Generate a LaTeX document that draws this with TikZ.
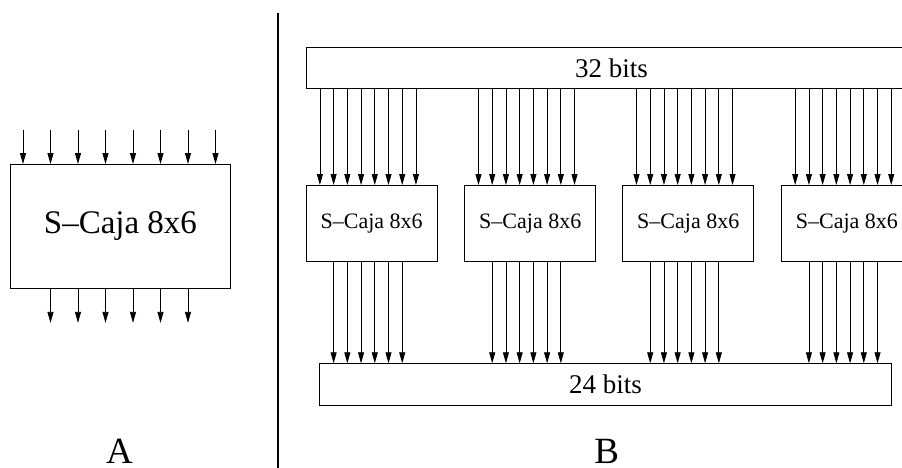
\documentclass[tikz,border=0pt]{standalone}
\usepackage{fontspec}
\setmainfont{Liberation Serif}
\usetikzlibrary{arrows.meta}
\begin{document}
\begin{tikzpicture}[x=1pt,y=-1pt,
  boxst/.style={draw, line width=0.9pt, inner sep=0pt, anchor=north west},
  arr/.style={line width=0.8pt, -{Triangle[length=11pt,width=6pt]}},
  bigtxt/.style={font=\fontsize{33}{40}\selectfont},
  lbltxt/.style={font=\fontsize{37}{44}\selectfont},
  midtxt/.style={font=\fontsize{27}{32}\selectfont},
  smalltxt/.style={font=\fontsize{22}{26}\selectfont}]
\clip (0,0) rectangle (902,467);
% ---------- Part A ----------
\node[boxst, bigtxt, minimum width=220pt, minimum height=124pt] (A) at (10,164) {S--Caja 8x6};
\foreach \i in {0,...,7}{
  \coordinate (ain\i) at ([xshift={13+27.5*\i}]A.north west);
  \coordinate (asrc\i) at ([yshift=34]ain\i);
  \draw[arr] (asrc\i) -- (ain\i);
}
\foreach \i in {1,...,6}{
  \coordinate (aout\i) at ([xshift={13+27.5*\i}]A.south west);
  \coordinate (adst\i) at ([yshift=-34]aout\i);
  \draw[arr] (aout\i) -- (adst\i);
}
\node[lbltxt, anchor=base, inner sep=0pt] (la) at (119.6,463.5) {A};
% ---------- separator ----------
\coordinate (septop) at (278,13);
\coordinate (sepbot) at (278,470);
\draw[line width=1.2pt] (septop) -- (sepbot);
% ---------- Part B ----------
\node[boxst, midtxt, minimum width=610.6pt, minimum height=41pt] (top) at (305.7,47) {32 bits};
\node[boxst, midtxt, minimum width=571.7pt, minimum height=41.7pt] (bot) at (319.3,363.3) {24 bits};
\foreach \k/\xl in {1/305.7,2/464.3,3/622.3,4/781}{
  \node[boxst, smalltxt, minimum width=131pt, minimum height=75.7pt] (s\k) at (\xl,185) {S--Caja 8x6};
  \foreach \i in {0,...,7}{
    \coordinate (in\k-\i) at ([xshift={14.2+13.72*\i}]s\k.north west);
    \draw[arr] (in\k-\i |- top.south) -- (in\k-\i);
  }
  \foreach \i in {1,...,6}{
    \coordinate (out\k-\i) at ([xshift={14.2+13.72*\i}]s\k.south west);
    \draw[arr] (out\k-\i) -- (out\k-\i |- bot.north);
  }
}
\node[lbltxt, anchor=base, inner sep=0pt] (lb) at (606.7,463.5) {B};
\end{tikzpicture}
\end{document}
